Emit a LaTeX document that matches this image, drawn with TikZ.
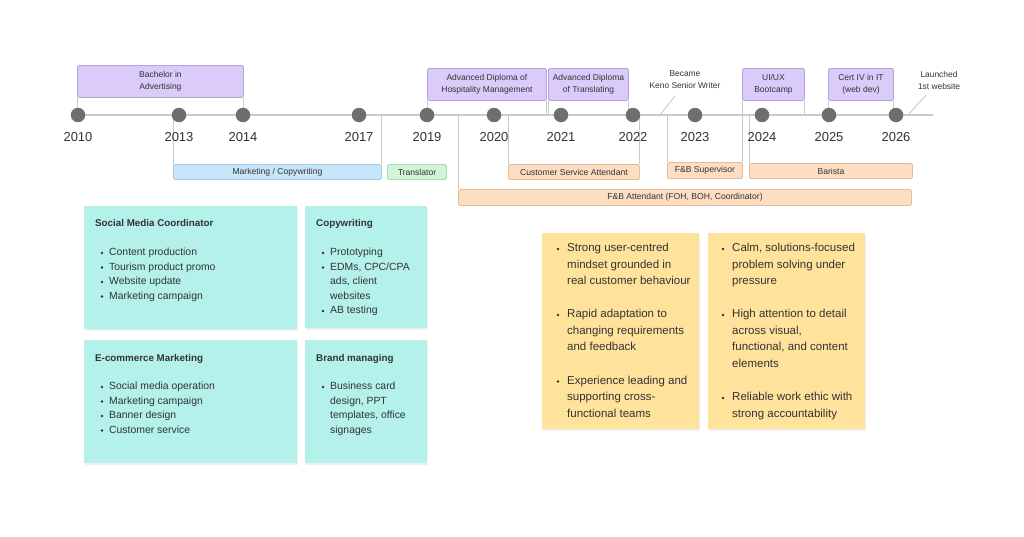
\documentclass[tikz,border=0pt]{standalone}
\usepackage{fontspec}
\setmainfont{Liberation Sans}
\usetikzlibrary{shadows}
\definecolor{txt}{HTML}{333333}
\definecolor{lineC}{HTML}{CACACA}
\definecolor{dotC}{HTML}{6E6E6E}
\definecolor{pfill}{HTML}{DACBFB}
\definecolor{pdraw}{HTML}{B3A3D9}
\definecolor{bfill}{HTML}{C8E6FA}
\definecolor{bdraw}{HTML}{A9CDE6}
\definecolor{gfill}{HTML}{D2F5D9}
\definecolor{gdraw}{HTML}{A8DCB3}
\definecolor{ofill}{HTML}{FDDEC2}
\definecolor{odraw}{HTML}{E3BC98}
\definecolor{tfill}{HTML}{B3F1EA}
\definecolor{yfill}{HTML}{FFE29C}
\newcommand\myitem[6]{\node[bul] (#1b) at (#2,#4) {}; \node[#6] (#1) at (#3,#4) {#5};}
\begin{document}
\begin{tikzpicture}[x=1pt,y=-1pt,
 tl/.style={draw=lineC, line width=1.6pt},
 conn/.style={draw=lineC, line width=0.9pt},
 yrdot/.style={circle, fill=dotC, minimum size=14.5pt, inner sep=0pt},
 yr/.style={font=\fontsize{13}{13}\selectfont, text=txt, anchor=base, inner sep=0pt},
 pbox/.style={draw=pdraw, fill=pfill, rounded corners=2pt, line width=0.9pt, inner sep=0pt, align=center, anchor=north west, text=txt, font=\fontsize{8.5}{12}\selectfont, minimum height=32pt},
 bar/.style={rounded corners=1.5pt, line width=0.9pt, inner sep=0pt, anchor=north west, text=txt, font=\fontsize{8.6}{10}\selectfont, minimum height=15pt},
 bbar/.style={bar, draw=bdraw, fill=bfill},
 gbar/.style={bar, draw=gdraw, fill=gfill},
 obar/.style={bar, draw=odraw, fill=ofill},
 ann/.style={align=center, text=txt, font=\fontsize{8.4}{12}\selectfont, inner sep=0pt},
 card/.style={fill=tfill, anchor=north west, inner sep=0pt, drop shadow={shadow xshift=0.6pt, shadow yshift=-1.6pt, opacity=0.12}},
 ycard/.style={card, fill=yfill},
 ctitle/.style={anchor=mid west, inner sep=0pt, text=txt, font=\fontsize{9.8}{10}\selectfont\bfseries},
 ctext/.style={anchor=mid west, inner sep=0pt, text=txt, font=\fontsize{10.4}{10}\selectfont},
 ytext/.style={anchor=mid west, inner sep=0pt, text=txt, font=\fontsize{11.5}{11}\selectfont},
 bul/.style={circle, fill=txt, inner sep=0pt, minimum size=2.8pt},
]
\useasboundingbox[fill=white] (0,0) rectangle (1024,536);

% timeline
\coordinate (tlS) at (72,115);
\coordinate (tlE) at (933,115);
\draw[tl] (tlS) -- (tlE);

% top boxes
\node[pbox, minimum width=166pt] (bach) at (77,65) {Bachelor in\\Advertising};
\node[pbox, minimum width=119pt] (hosp) at (427,68) {Advanced Diploma of\\Hospitality Management};
\node[pbox, minimum width=80pt] (trans) at (548,68) {Advanced Diploma\\of Translating};
\node[pbox, minimum width=62pt] (uiux) at (742,68) {UI/UX\\Bootcamp};
\node[pbox, minimum width=65pt] (cert) at (828,68) {Cert IV in IT\\(web dev)};

% bottom bars
\node[bbar, minimum width=208pt] (mkt) at (173,164) {Marketing / Copywriting};
\node[gbar, minimum width=59pt] (tra) at (387,164) {Translator};
\node[obar, minimum width=131pt] (csa) at (508,164) {Customer Service Attendant};
\node[obar, minimum width=75pt, minimum height=16pt] (fbs) at (667,162) {F\&B Supervisor};
\node[obar, minimum width=163pt] (bar) at (749,163) {Barista};
\node[obar, minimum width=453pt, minimum height=16pt] (fba) at (458,189) {F\&B Attendant (FOH, BOH, Coordinator)};

% year positions
\foreach \yy/\xx in {2010/78,2013/179,2014/243,2017/359,2019/427,2020/494,2021/561,2022/633,2023/695,2024/762,2025/829,2026/896}{
  \coordinate (c\yy) at (\xx,115);
}

% connectors to timeline (drawn before dots)
\draw[conn] (bach.south west) -- (bach.south west |- c2010);
\draw[conn] (bach.south east) -- (bach.south east |- c2014);
\draw[conn] (hosp.south west) -- (hosp.south west |- c2019);
\draw[conn] (hosp.south east) -- (hosp.south east |- c2021);
\draw[conn] (trans.south west) -- (trans.south west |- c2021);
\draw[conn] (trans.south east) -- (trans.south east |- c2022);
\draw[conn] (uiux.south west) -- (uiux.south west |- c2024);
\draw[conn] (uiux.south east) -- (uiux.south east |- c2024);
\draw[conn] (cert.south west) -- (cert.south west |- c2025);
\draw[conn] (cert.south east) -- (cert.south east |- c2026);
\draw[conn] (mkt.north west) -- (mkt.north west |- c2013);
\draw[conn] (mkt.north east) -- (mkt.north east |- c2017);
\draw[conn] (csa.north west) -- (csa.north west |- c2020);
\draw[conn] (csa.north east) -- (csa.north east |- c2022);
\draw[conn] (fbs.north west) -- (fbs.north west |- c2023);
\draw[conn] (fbs.north east) -- (fbs.north east |- c2024);
\draw[conn] (bar.north west) -- (bar.north west |- c2024);
\draw[conn] (fba.north west) -- (fba.north west |- c2019);

\foreach \yy/\xx in {2010/78,2013/179,2014/243,2017/359,2019/427,2020/494,2021/561,2022/633,2023/695,2024/762,2025/829,2026/896}{
  \node[yrdot] (d\yy) at (\xx,115) {};
  \node[yr] (y\yy) at (\xx,141.5) {\yy};
}

% annotations
\node[ann] (became) at (685,80) {Became\\Keno Senior Writer};
\coordinate (becameT) at (660,115);
\coordinate (becameL) at (675,96);
\draw[conn] (becameT) -- (becameL);
\node[ann] (launch) at (939,80) {Launched\\1st website};
\coordinate (launchT) at (908,115);
\coordinate (launchL) at (926,95);
\draw[conn] (launchT) -- (launchL);

% teal cards
\node[card, minimum width=213pt, minimum height=123pt] (smc) at (84,206) {};
\node[card, minimum width=122pt, minimum height=122pt] (cpw) at (305,206) {};
\node[card, minimum width=213pt, minimum height=123pt] (ecm) at (84,340) {};
\node[card, minimum width=122pt, minimum height=123pt] (brd) at (305,340) {};

\node[ctitle] (smcT) at (95,224) {Social Media Coordinator};
\myitem{smc1}{102}{109}{253}{Content production}{ctext}
\myitem{smc2}{102}{109}{267.5}{Tourism product promo}{ctext}
\myitem{smc3}{102}{109}{282}{Website update}{ctext}
\myitem{smc4}{102}{109}{296.5}{Marketing campaign}{ctext}

\node[ctitle] (cpwT) at (316,224) {Copywriting};
\myitem{cpw1}{323}{330}{253}{Prototyping}{ctext}
\myitem{cpw2}{323}{330}{267.5}{EDMs, CPC/CPA}{ctext}
\node[ctext] (cpw2b) at (330,282) {ads, client};
\node[ctext] (cpw2c) at (330,296.5) {websites};
\myitem{cpw3}{323}{330}{311}{AB testing}{ctext}

\node[ctitle] (ecmT) at (95,358.5) {E-commerce Marketing};
\myitem{ecm1}{102}{109}{387}{Social media operation}{ctext}
\myitem{ecm2}{102}{109}{401.5}{Marketing campaign}{ctext}
\myitem{ecm3}{102}{109}{416}{Banner design}{ctext}
\myitem{ecm4}{102}{109}{430.5}{Customer service}{ctext}

\node[ctitle] (brdT) at (316,358.5) {Brand managing};
\myitem{brd1}{323}{330}{387}{Business card}{ctext}
\node[ctext] (brd1b) at (330,401.5) {design, PPT};
\node[ctext] (brd1c) at (330,416) {templates, office};
\node[ctext] (brd1d) at (330,430.5) {signages};

% yellow cards
\node[ycard, minimum width=157pt, minimum height=196pt] (yl) at (542,233) {};
\node[ycard, minimum width=157pt, minimum height=196pt] (yr) at (708,233) {};

\myitem{yl1}{558}{567}{249}{Strong user-centred}{ytext}
\node[ytext] (yl1b) at (567,265.5) {mindset grounded in};
\node[ytext] (yl1c) at (567,282) {real customer behaviour};
\myitem{yl2}{558}{567}{315}{Rapid adaptation to}{ytext}
\node[ytext] (yl2b) at (567,331.5) {changing requirements};
\node[ytext] (yl2c) at (567,348) {and feedback};
\myitem{yl3}{558}{567}{381.5}{Experience leading and}{ytext}
\node[ytext] (yl3b) at (567,398) {supporting cross-};
\node[ytext] (yl3c) at (567,414.5) {functional teams};

\myitem{yr1}{723}{732}{249}{Calm, solutions-focused}{ytext}
\node[ytext] (yr1b) at (732,265.5) {problem solving under};
\node[ytext] (yr1c) at (732,282) {pressure};
\myitem{yr2}{723}{732}{315}{High attention to detail}{ytext}
\node[ytext] (yr2b) at (732,331.5) {across visual,};
\node[ytext] (yr2c) at (732,348) {functional, and content};
\node[ytext] (yr2d) at (732,364.5) {elements};
\myitem{yr3}{723}{732}{398}{Reliable work ethic with}{ytext}
\node[ytext] (yr3b) at (732,414.5) {strong accountability};
\end{tikzpicture}
\end{document}
